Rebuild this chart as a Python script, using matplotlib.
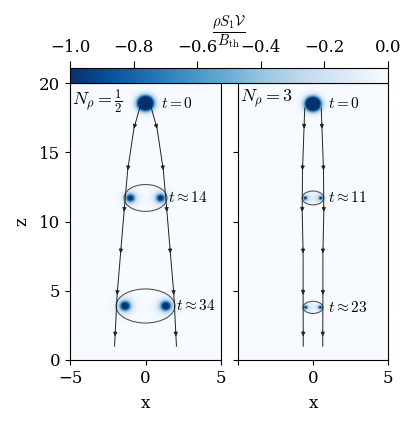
import numpy as np
import matplotlib
matplotlib.use("Agg")
import matplotlib.pyplot as plt
from matplotlib.patches import Ellipse

plt.rcParams['font.family'] = ['DejaVu Serif']
plt.rcParams['mathtext.fontset'] = 'cm'
plt.rcParams['font.size'] = 12

# ---------------- data ----------------
panel_titles = [r"$N_\rho=\frac{1}{2}$", r"$N_\rho=3$"]

# blobs (x, z, amplitude, sigma) per panel
blob_x_left = [0.0, -1.0, 1.0, -1.0, 1.0, -1.35, 1.35, -1.35, 1.35]
blob_z_left = [18.55, 11.7, 11.7, 11.7, 11.7, 3.9, 3.9, 3.9, 3.9]
blob_a_left = [2.6, 0.9, 0.9, 0.25, 0.25, 1.1, 1.1, 0.25, 0.25]
blob_s_left = [0.34, 0.2, 0.2, 0.4, 0.4, 0.23, 0.23, 0.45, 0.45]

blob_x_right = [0.0, -0.53, 0.53, -0.4, 0.4, -0.49, 0.49, -0.38, 0.38]
blob_z_right = [18.5, 11.7, 11.7, 11.7, 11.7, 3.8, 3.8, 3.8, 3.8]
blob_a_right = [2.6, 0.85, 0.85, 0.22, 0.22, 0.9, 0.9, 0.2, 0.2]
blob_s_right = [0.33, 0.1, 0.1, 0.25, 0.25, 0.09, 0.09, 0.22, 0.22]

# trajectories: ring radius vs height
traj_z_left = [18.3, 16.7, 13.7, 10.7, 7.7, 4.7, 1.0]
traj_r_left = [0.36, 0.77, 1.18, 1.42, 1.65, 1.88, 2.05]
traj_z_right = [18.2, 16.7, 13.7, 10.7, 7.7, 4.7, 1.0]
traj_r_right = [0.55, 0.6, 0.7, 0.72, 0.66, 0.66, 0.65]
arrow_z = [16.7, 13.7, 10.7, 7.7, 4.7, 1.7]

# ellipses (center z, semi-width, semi-height)
ell_z_left = [11.7, 3.9]
ell_a_left = [1.42, 1.95]
ell_b_left = [0.97, 1.23]
ell_z_right = [11.7, 3.8]
ell_a_right = [0.72, 0.66]
ell_b_right = [0.5, 0.44]

# time labels (x, z, text)
lab_x_left = [1.05, 1.5, 2.05]
lab_z_left = [18.5, 11.7, 3.9]
lab_t_left = [r"$t=0$", r"$t\approx14$", r"$t\approx34$"]
lab_x_right = [1.0, 1.0, 1.0]
lab_z_right = [18.5, 11.7, 3.8]
lab_t_right = [r"$t=0$", r"$t\approx11$", r"$t\approx23$"]

cbar_ticks = [-1.0, -0.8, -0.6, -0.4, -0.2, 0.0]

# ---------------- figure ----------------
fig = plt.figure(figsize=(4.15, 4.26), dpi=100)
W, H = 415, 426
ax1 = fig.add_axes([70 / W, (H - 360) / H, 151 / W, 277 / H])
ax2 = fig.add_axes([238 / W, (H - 360) / H, 150 / W, 277 / H])
cax = fig.add_axes([70 / W, (H - 83) / H, 318 / W, 15 / H])

xg = np.linspace(-5, 5, 500)
zg = np.linspace(0, 20, 1000)
X, Z = np.meshgrid(xg, zg)

panels = [
    (ax1, blob_x_left, blob_z_left, blob_a_left, blob_s_left, traj_z_left, traj_r_left,
     ell_z_left, ell_a_left, ell_b_left, lab_x_left, lab_z_left, lab_t_left),
    (ax2, blob_x_right, blob_z_right, blob_a_right, blob_s_right, traj_z_right, traj_r_right,
     ell_z_right, ell_a_right, ell_b_right, lab_x_right, lab_z_right, lab_t_right),
]

im = None
for i, (ax, bx, bz, ba, bs, tz, tr, ez, ea, eb, lx, lz, lt) in enumerate(panels):
    F = np.zeros_like(X)
    for x0, z0, a, s in zip(bx, bz, ba, bs):
        F -= a * np.exp(-((X - x0) ** 2 + (Z - z0) ** 2) / (2 * s ** 2))
    im = ax.imshow(F, extent=[-5, 5, 0, 20], origin='lower', cmap='Blues_r',
                   vmin=-1, vmax=0, aspect='auto', interpolation='bilinear')
    tz_a = np.array(tz)
    tr_a = np.array(tr)
    for sgn in (-1, 1):
        ax.plot(sgn * tr_a, tz_a, color='#222222', lw=0.7)
        for za in arrow_z:
            ra = np.interp(za, tz_a[::-1], tr_a[::-1])
            rb = np.interp(za + 0.4, tz_a[::-1], tr_a[::-1])
            ax.annotate('', xy=(sgn * ra, za), xytext=(sgn * rb, za + 0.4),
                        arrowprops=dict(arrowstyle='-|>', color='#222222', lw=0.6,
                                        mutation_scale=6, shrinkA=0, shrinkB=0))
    for z0, a, b in zip(ez, ea, eb):
        ax.add_patch(Ellipse((0, z0), 2 * a, 2 * b, fill=False, ec='#555555', lw=0.8))
    for x0, z0, t in zip(lx, lz, lt):
        ax.text(x0, z0, t, ha='left', va='center', fontsize=11)
    ax.text(0.01, 0.985, panel_titles[i], transform=ax.transAxes, ha='left', va='top',
            fontsize=13)
    ax.set_xlim(-5, 5)
    ax.set_ylim(0, 20)
    ax.set_xticks([-5, 0, 5])
    ax.set_yticks([0, 5, 10, 15, 20])
    ax.set_xlabel('x', labelpad=6)

ax1.set_ylabel('z', labelpad=6)
ax2.set_yticklabels([])
ax2.set_xticklabels(['', '0', '5'])

cb = fig.colorbar(im, cax=cax, orientation='horizontal', ticks=cbar_ticks)
cax.xaxis.set_ticks_position('top')
cax.xaxis.set_label_position('top')
cax.tick_params(length=5)
cb.set_label(r"$\frac{\rho S_1 \mathcal{V}}{B_{\rm th}}$", fontsize=15, labelpad=1)
cb.outline.set_linewidth(0.8)

fig.savefig('out.png', dpi=100)
